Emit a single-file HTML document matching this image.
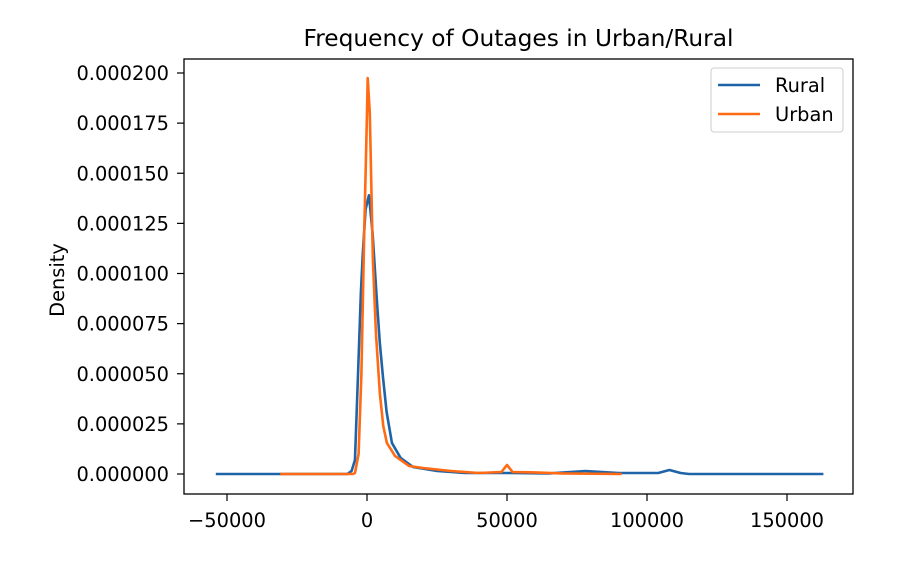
<!DOCTYPE html>
<html><head><meta charset="utf-8"><style>
body{margin:0;background:#fff}
svg text{font-family:"DejaVu Sans","Liberation Sans",sans-serif;fill:#000}
</style></head><body>
<svg id="chart" width="924" height="566">
<rect x="0" y="0" width="924" height="566" fill="#fff"/>
<text x="518.5" y="46" font-size="23.3" text-anchor="middle">Frequency of Outages in Urban/Rural</text>
<g id="marks"></g>
<g id="axes"></g>
<rect x="184" y="59" width="669" height="435" fill="none" stroke="#000" stroke-width="1.3"/>
<text transform="translate(64,280) rotate(-90)" font-size="19.4" text-anchor="middle">Density</text>
<g>
<rect x="711" y="68" width="132" height="64" rx="3" fill="#fff" stroke="#ccc" stroke-width="1"/>
<g><line x1="718" y1="85" x2="760" y2="85" stroke="#1f63a8" stroke-width="2.5"/><text x="775" y="92" font-size="19.4">Rural</text></g>
<g><line x1="718" y1="114" x2="760" y2="114" stroke="#ff6a13" stroke-width="2.5"/><text x="775" y="121" font-size="19.4">Urban</text></g>
</g>
</svg>
<script>
const xTicks=[-50000,0,50000,100000,150000];
const xTickLabels=["\u221250000","0","50000","100000","150000"];
const yTicks=[0,0.000025,0.00005,0.000075,0.0001,0.000125,0.00015,0.000175,0.0002];
const yTickLabels=["0.000000","0.000025","0.000050","0.000075","0.000100","0.000125","0.000150","0.000175","0.000200"];
const ruralX=[-54000,-7000,-5500,-4300,-3200,-2200,-1500,-500,700,2000,3600,4600,5700,7000,8900,12000,16400,25000,35000,50000,65000,78000,90000,104000,108000,112000,115000,163000];
const ruralY=[0,0,0.0000015,0.000007,0.00005,0.00009,0.00011,0.000132,0.000139,0.00012,0.000085,0.000065,0.0000484,0.000031,0.0000155,0.000008,0.0000035,0.0000015,0.0000005,0.0000005,0.0000003,0.0000015,0.0000005,0.0000005,0.000002,0.0000005,0,0];
const urbanX=[-31000,-5000,-4300,-3000,-2000,-1000,0,250,1000,2100,3200,4600,5800,7100,10000,15000,20000,30000,40000,48000,50000,52000,60000,70000,91000];
const urbanY=[0,0,0.0000005,0.00001,0.00005,0.00012,0.00018,0.0001975,0.00018,0.000107,0.00007,0.00004,0.000024,0.0000155,0.000009,0.000004,0.000003,0.0000015,0.0000005,0.000001,0.0000045,0.000001,0.0000008,0.0000003,0];
const sx=v=>367+v*140/50000;
const sy=v=>474-v*401/0.0002;
const NS="http://www.w3.org/2000/svg";
const marks=document.getElementById('marks'),axes=document.getElementById('axes');
function line(xs,ys,color,name){
  const p=document.createElementNS(NS,'polyline');
  p.setAttribute('points',xs.map((x,i)=>sx(x).toFixed(2)+','+sy(ys[i]).toFixed(2)).join(' '));
  p.setAttribute('fill','none');p.setAttribute('stroke',color);p.setAttribute('stroke-width','2.6');p.setAttribute('stroke-linejoin','round');
  
  
  marks.appendChild(p);
}
line(ruralX,ruralY,'#1f63a8','rural-density-line');
line(urbanX,urbanY,'#ff6a13','urban-density-line');
xTicks.forEach((v,i)=>{
  const t=document.createElementNS(NS,'line');
  t.setAttribute('x1',sx(v));t.setAttribute('x2',sx(v));t.setAttribute('y1',494);t.setAttribute('y2',501);t.setAttribute('stroke','#000');t.setAttribute('stroke-width','1.2');
  
  
  axes.appendChild(t);
  const l=document.createElementNS(NS,'text');
  l.setAttribute('x',sx(v));l.setAttribute('y',527);l.setAttribute('font-size','19.4');l.setAttribute('text-anchor','middle');
  l.textContent=xTickLabels[i];
  
  
  axes.appendChild(l);
});
yTicks.forEach((v,i)=>{
  const t=document.createElementNS(NS,'line');
  t.setAttribute('x1',177);t.setAttribute('x2',184);t.setAttribute('y1',sy(v));t.setAttribute('y2',sy(v));t.setAttribute('stroke','#000');t.setAttribute('stroke-width','1.2');
  
  
  axes.appendChild(t);
  const l=document.createElementNS(NS,'text');
  l.setAttribute('x',169);l.setAttribute('y',sy(v)+7);l.setAttribute('font-size','19.4');l.setAttribute('text-anchor','end');
  l.textContent=yTickLabels[i];
  
  
  axes.appendChild(l);
});
</script>
</body></html>
